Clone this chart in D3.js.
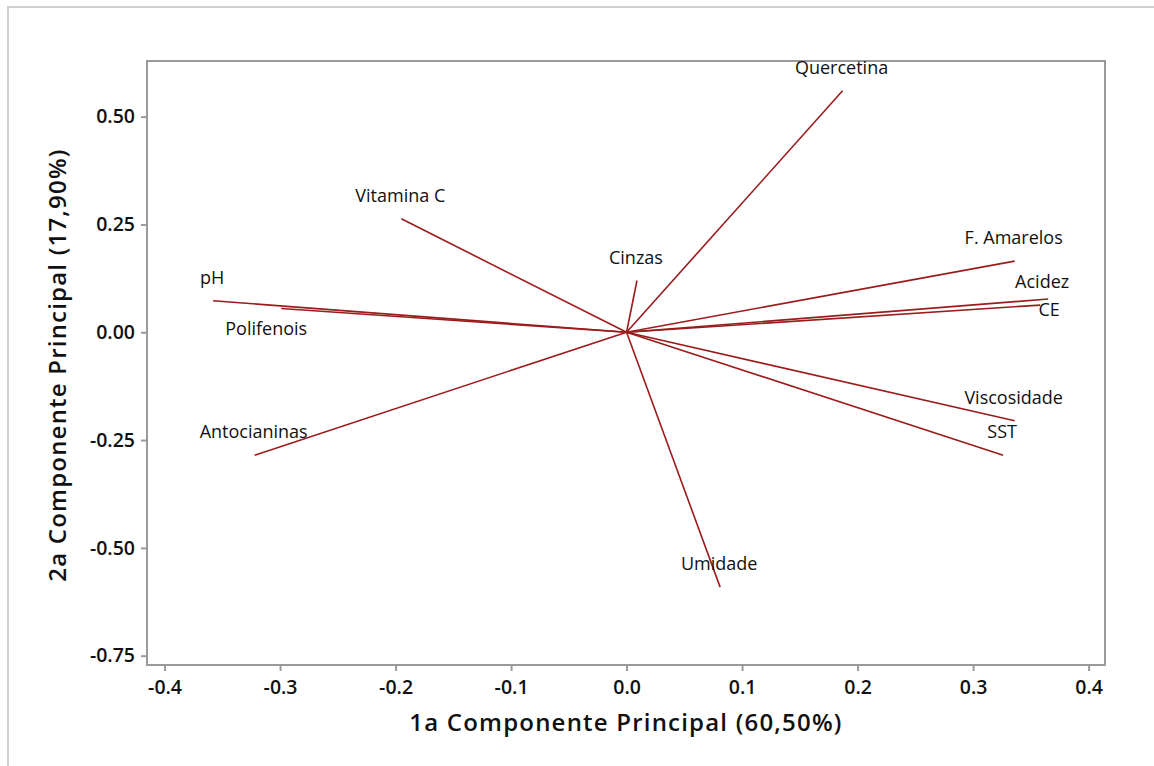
<!DOCTYPE html>
<html>
<head>
<meta charset="utf-8">
<script src="https://cdn.jsdelivr.net/npm/d3@7"></script>
<style>
  body { margin: 0; background: #fff; }
  text { font-family: "Open Sans", "Noto Sans", sans-serif; fill: #111; }
</style>
</head>
<body>
<script>
// loadings (PC1, PC2)
var variables = ["Quercetina", "Vitamina C", "Cinzas", "pH", "Polifenois", "Antocianinas",
                 "F. Amarelos", "Acidez", "CE", "Viscosidade", "SST", "Umidade"];
var pc1 = [0.187, -0.195, 0.009, -0.358, -0.299, -0.322, 0.336, 0.365, 0.358, 0.336, 0.326, 0.081];
var pc2 = [0.560, 0.263, 0.120, 0.073, 0.055, -0.285, 0.165, 0.077, 0.063, -0.205, -0.285, -0.591];

var xTicks = [-0.4, -0.3, -0.2, -0.1, 0.0, 0.1, 0.2, 0.3, 0.4];
var yTicks = [0.50, 0.25, 0.00, -0.25, -0.50, -0.75];

var xTitle = "1a Componente Principal (60,50%)";
var yTitle = "2a Componente Principal (17,90%)";

//label nudges in px, default is centered just above the end of the vector
var labelNudge = {
    "Polifenois": [-15, 20],
    "Acidez": [-6, -17],
    "CE": [9, 5]
};

var settings = {
    width: 1154,
    height: 766,
    left: 147,
    top: 61,
    right: 1105,
    bottom: 665,
    lineColor: "#9b1c1c"
};

var svg = d3.select("body").append("svg")
    .attr("width", settings.width)
    .attr("height", settings.height);

//outer frame (only top and left show)
svg.append("rect")
    .attr("x", 8).attr("y", 7)
    .attr("width", 1200).attr("height", 800)
    .attr("fill", "none")
    .attr("stroke", "#cfcfcf")
    .attr("stroke-width", 2);

var x = d3.scaleLinear().domain([-0.4152, 0.4142]).range([settings.left, settings.right]);
var y = d3.scaleLinear().domain([-0.7716, 0.629]).range([settings.bottom, settings.top]);

//plain hyphen for negatives, like the original
var fmt = (f) => { return (d) => { return d3.format(f)(d).replace("\u2212", "-"); }; };

//plot frame
svg.append("rect")
    .attr("x", settings.left).attr("y", settings.top)
    .attr("width", settings.right - settings.left)
    .attr("height", settings.bottom - settings.top)
    .attr("fill", "none")
    .attr("stroke", "#9a9a9a")
    .attr("stroke-width", 2);

var xAxis = svg.append("g")
    .attr("transform", "translate(0," + settings.bottom + ")")
    .call(d3.axisBottom(x).tickValues(xTicks).tickFormat(fmt(".1f")).tickSize(6).tickPadding(5));

var yAxis = svg.append("g")
    .attr("transform", "translate(" + settings.left + ",0)")
    .call(d3.axisLeft(y).tickValues(yTicks).tickFormat(fmt(".2f")).tickSize(6).tickPadding(6));

[xAxis, yAxis].forEach((ax) => {
    ax.select(".domain").remove();
    ax.selectAll(".tick line").attr("stroke", "#9a9a9a").attr("stroke-width", 2);
    ax.selectAll(".tick text")
        .style("font-size", "19.5px")
        .style("font-weight", 600)
        .style("font-family", "'Open Sans', 'Noto Sans', sans-serif")
        .attr("fill", "#111");
});
xAxis.selectAll(".tick text").attr("dy", "0.9em");

//axis titles
svg.append("text")
    .attr("x", 626)
    .attr("y", 731)
    .attr("text-anchor", "middle")
    .style("font-size", "24px")
    .style("font-weight", 600)
    .style("letter-spacing", "1.2px")
    .text(xTitle);

svg.append("text")
    .attr("transform", "translate(66,365) rotate(-90)")
    .attr("text-anchor", "middle")
    .style("font-size", "24px")
    .style("font-weight", 600)
    .style("letter-spacing", "1.2px")
    .text(yTitle);

var data = variables.map((v, i) => { return {name: v, x: pc1[i], y: pc2[i]}; });

//vectors
svg.append("g").selectAll("line")
    .data(data)
    .enter().append("line")
    .attr("x1", x(0)).attr("y1", y(0))
    .attr("x2", (d) => { return x(d.x); })
    .attr("y2", (d) => { return y(d.y); })
    .attr("stroke", settings.lineColor)
    .attr("stroke-width", 1.6);

//labels
svg.append("g").selectAll("text")
    .data(data)
    .enter().append("text")
    .attr("x", (d) => { return x(d.x) + (labelNudge[d.name] ? labelNudge[d.name][0] : -1); })
    .attr("y", (d) => { return y(d.y) + (labelNudge[d.name] ? labelNudge[d.name][1] : -23); })
    .attr("dy", "0.35em")
    .attr("text-anchor", "middle")
    .style("font-size", "18px")
    .text((d) => { return d.name; });
</script>
</body>
</html>
